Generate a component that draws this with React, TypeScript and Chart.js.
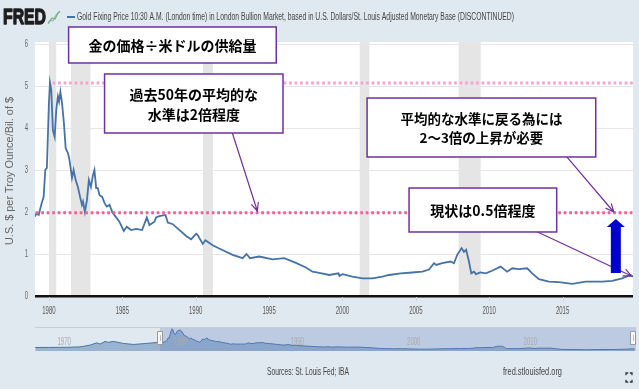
import React, { useEffect, useRef } from 'react';
import { Chart, registerables } from 'chart.js';
Chart.register(...registerables);

// ---- data (ratio: gold price / adjusted monetary base) ----
const years = [
  1979.05, 1979.15, 1979.3, 1979.5, 1979.64, 1979.75, 1979.86, 1980.0, 1980.07, 1980.16,
  1980.27, 1980.39, 1980.5, 1980.61, 1980.69, 1980.78, 1980.89, 1981.02, 1981.14, 1981.3,
  1981.4, 1981.57, 1981.68, 1981.82, 1981.97, 1982.14, 1982.25, 1982.32, 1982.45, 1982.59,
  1982.72, 1982.86, 1983.0, 1983.1, 1983.22, 1983.33, 1983.45, 1983.63, 1983.79, 1983.94,
  1984.13, 1984.31, 1984.54, 1984.8, 1985.1, 1985.3, 1985.6, 1985.95, 1986.35, 1986.67,
  1986.85, 1987.19, 1987.3, 1987.53, 1987.94, 1988.1, 1988.44, 1988.9, 1989.35, 1989.69,
  1990.03, 1990.14, 1990.48, 1990.66, 1991.16, 1991.6, 1992.52, 1993.2, 1993.47, 1993.7,
  1994.33, 1995.24, 1996.03, 1996.83, 1997.51, 1997.96, 1998.42, 1999.1, 1999.73, 1999.8,
  2000.0, 2000.68, 2001.36, 2002.04, 2002.72, 2003.18, 2003.97, 2004.76, 2005.44, 2005.9,
  2006.24, 2006.4, 2006.8, 2007.37, 2007.6, 2007.82, 2008.12, 2008.28, 2008.43, 2008.62,
  2008.78, 2008.96, 2009.1, 2009.4, 2009.76, 2010.2, 2010.78, 2011.22, 2011.57, 2012.02,
  2012.59, 2012.93, 2013.39, 2014.07, 2014.75, 2015.66, 2016.57, 2017.7, 2018.38, 2019.06,
  2019.63, 2019.8,
];
const ratio = [
  1.89, 1.97, 1.93, 2.2, 2.36, 3.0, 3.05, 4.6, 5.08, 4.9,
  3.95, 3.79, 4.43, 4.75, 4.63, 4.86, 4.6, 4.12, 3.52, 3.4,
  3.24, 2.81, 3.0, 2.76, 2.6, 2.33, 2.17, 2.25, 2.0, 2.29,
  2.76, 2.6, 2.88, 3.0, 2.57, 2.57, 2.4, 2.36, 2.21, 2.13,
  2.17, 2.0, 1.89, 1.77, 1.55, 1.65, 1.57, 1.6, 1.57, 1.87,
  1.69, 1.77, 1.87, 1.9, 1.93, 1.75, 1.71, 1.57, 1.43, 1.35,
  1.48, 1.45, 1.24, 1.33, 1.21, 1.13, 0.98, 0.9, 1.0, 0.9,
  0.94, 0.87, 0.9, 0.79, 0.68, 0.58, 0.55, 0.5, 0.54, 0.48,
  0.52, 0.46, 0.42, 0.42, 0.46, 0.5, 0.54, 0.56, 0.58, 0.63,
  0.78, 0.74, 0.78, 0.82, 0.78, 0.98, 1.14, 1.05, 1.1, 0.82,
  0.54, 0.58, 0.52, 0.56, 0.54, 0.6, 0.7, 0.58, 0.66, 0.64,
  0.66, 0.54, 0.4, 0.34, 0.33, 0.29, 0.34, 0.34, 0.36, 0.42,
  0.5, 0.46,
];
// navigator only: earlier history
const preYears = [1968.35, 1969.5, 1971.0, 1972.19, 1973.05, 1973.63, 1973.91, 1974.34, 1974.62, 1975.05, 1975.91, 1976.77, 1977.92, 1978.92];
const preRatio = [0.8, 0.82, 0.85, 0.94, 1.34, 1.88, 1.58, 2.2, 1.98, 2.2, 1.74, 1.5, 1.74, 1.98];

const recessionStart = [1980.0, 1981.5, 1990.5, 2001.17, 2007.92];
const recessionEnd = [1980.5, 1982.83, 1991.17, 2001.83, 2009.42];

const xTickYears = [1980, 1985, 1990, 1995, 2000, 2005, 2010, 2015];
const yTickValues = [0, 1, 2, 3, 4, 5, 6];
const navLabelYears = [1970, 1980, 1990, 2000, 2010];

const avgLevels = [5.07, 1.98];
const avgStarts = [1980.25, 1979.1];
const avgColors = ['#ff9fd0', '#ff5a98'];

const title = 'Gold Fixing Price 10:30 A.M. (London time) in London Bullion Market, based in U.S. Dollars/St. Louis Adjusted Monetary Base (DISCONTINUED)';
const yTitle = 'U.S. $ per Troy Ounce/Bil. of $';

// annotation boxes in data units (year, value)
const noteTexts = [
  ['金の価格÷米ドルの供給量'],
  ['過去50年の平均的な', '水準は2倍程度'],
  ['平均的な水準に戻る為には', '2〜3倍の上昇が必要'],
  ['現状は0.5倍程度'],
];
const noteX0 = [1981.34, 1983.79, 2001.68, 2004.54];
const noteX1 = [1995.49, 1995.95, 2017.26, 2014.6];
const noteYTop = [6.405, 5.286, 4.714, 2.571];
const noteYBot = [5.548, 3.881, 3.31, 1.524];
const noteFont = [14, 14, 13.5, 14];
const arrowFrom = [[1992.5, 3.881], [2015.29, 3.31], [2013.3, 1.524]];
const arrowTo = [[1994.2, 2.024], [2018.49, 2.0], [2019.7, 0.476]];
const bigArrowX = 2018.63;
const bigArrowFrom = 0.548;
const bigArrowTo = 1.833;

const BG = '#e1e9f0';
const LINE = '#4572a7';
const PURPLE = '#7030a0';
const SANS = '"Liberation Sans", Arial, sans-serif';
const JP = '"Noto Sans CJK JP", "Noto Sans CJK SC", sans-serif';

function drawScaled(ctx: CanvasRenderingContext2D, text: string, x: number, y: number, font: string, color: string, align: CanvasTextAlign, sx: number, stroke = 0) {
  ctx.save();
  ctx.font = font;
  ctx.fillStyle = color;
  ctx.textBaseline = 'middle';
  ctx.textAlign = align;
  ctx.translate(x, y);
  ctx.scale(sx, 1);
  ctx.fillText(text, 0, 0);
  if (stroke > 0) {
    ctx.strokeStyle = color;
    ctx.lineWidth = stroke;
    ctx.lineJoin = 'round';
    ctx.strokeText(text, 0, 0);
  }
  ctx.restore();
}
function drawFit(ctx: CanvasRenderingContext2D, text: string, x: number, y: number, font: string, color: string, align: CanvasTextAlign, width: number, stroke = 0) {
  ctx.save();
  ctx.font = font;
  const w = ctx.measureText(text).width;
  ctx.restore();
  drawScaled(ctx, text, x, y, font, color, align, width / w, stroke);
}
function openArrow(ctx: CanvasRenderingContext2D, x0: number, y0: number, x1: number, y1: number) {
  ctx.save();
  ctx.strokeStyle = PURPLE;
  ctx.lineWidth = 1.2;
  ctx.beginPath();
  ctx.moveTo(x0, y0);
  ctx.lineTo(x1, y1);
  const a = Math.atan2(y1 - y0, x1 - x0);
  const L = 9;
  ctx.moveTo(x1 - L * Math.cos(a - 0.42), y1 - L * Math.sin(a - 0.42));
  ctx.lineTo(x1, y1);
  ctx.lineTo(x1 - L * Math.cos(a + 0.42), y1 - L * Math.sin(a + 0.42));
  ctx.stroke();
  ctx.restore();
}

const mainPlugin = {
  id: 'fredMain',
  beforeDraw(chart: any) {
    const { ctx, chartArea: a, scales } = chart;
    ctx.save();
    ctx.fillStyle = BG;
    ctx.fillRect(0, 0, chart.width, chart.height);
    ctx.fillStyle = '#ffffff';
    ctx.fillRect(a.left, a.top - 2, a.right - a.left, a.bottom - a.top + 3);
    ctx.fillStyle = '#e5e5e5';
    recessionStart.forEach((s, i) => {
      const x0 = scales.x.getPixelForValue(s);
      const x1 = scales.x.getPixelForValue(recessionEnd[i]);
      ctx.fillRect(x0, a.top - 2, x1 - x0, a.bottom - a.top + 2);
    });
    ctx.restore();
  },
  afterDraw(chart: any) {
    const { ctx, chartArea: a, scales } = chart;
    const xs = scales.x, ys = scales.y;
    // x tick labels + small marks
    xs.ticks.forEach((t: any) => {
      const px = xs.getPixelForValue(t.value);
      ctx.save();
      ctx.strokeStyle = '#ccd6eb';
      ctx.lineWidth = 1;
      ctx.beginPath();
      ctx.moveTo(Math.round(px) + 0.5, a.bottom + 1);
      ctx.lineTo(Math.round(px) + 0.5, a.bottom + 5);
      ctx.stroke();
      ctx.restore();
      drawScaled(ctx, String(t.value), px, a.bottom + 15, `10px ${SANS}`, '#555', 'center', 0.6);
    });
    // y tick labels
    ys.ticks.forEach((t: any) => {
      const py = ys.getPixelForValue(t.value);
      drawScaled(ctx, String(t.value), 28, py, `10px ${SANS}`, '#666', 'right', 0.6);
    });
    // y title
    ctx.save();
    ctx.translate(10, 171);
    ctx.rotate(-Math.PI / 2);
    drawFit(ctx, yTitle, 0, 0, `10px ${SANS}`, '#666', 'center', 148);
    ctx.restore();
    // header
    drawFit(ctx, 'FRED', 3, 18, `bold 22px ${SANS}`, '#1e1e1e', 'left', 43, 1.4);
    ctx.save();
    ctx.lineWidth = 1.2;
    ctx.strokeStyle = '#8fb3d9';
    ctx.beginPath();
    ctx.moveTo(48, 24); ctx.lineTo(51, 20); ctx.lineTo(53, 21); ctx.lineTo(56, 15); ctx.lineTo(60, 11);
    ctx.stroke();
    ctx.strokeStyle = '#79b36b';
    ctx.beginPath();
    ctx.moveTo(48, 23); ctx.lineTo(52, 18); ctx.lineTo(55, 19); ctx.lineTo(58, 13); ctx.lineTo(60, 12);
    ctx.stroke();
    ctx.strokeStyle = LINE;
    ctx.lineWidth = 2;
    ctx.beginPath();
    ctx.moveTo(67, 17); ctx.lineTo(75, 17);
    ctx.stroke();
    ctx.restore();
    drawFit(ctx, title, 77, 17, `10px ${SANS}`, '#444', 'left', 437);
    // footer
    drawFit(ctx, 'Sources: St. Louis Fed; IBA', 267, 372, `10px ${SANS}`, '#444', 'left', 82);
    drawFit(ctx, 'fred.stlouisfed.org', 503, 372.5, `10px ${SANS}`, '#444', 'left', 59);
    ctx.save();
    ctx.strokeStyle = '#333';
    ctx.lineWidth = 1.3;
    const fx = 626, fy = 373, fs = 6, c = 2.2;
    ctx.beginPath();
    ctx.moveTo(fx, fy + c); ctx.lineTo(fx, fy); ctx.lineTo(fx + c, fy);
    ctx.moveTo(fx + fs - c, fy); ctx.lineTo(fx + fs, fy); ctx.lineTo(fx + fs, fy + c);
    ctx.moveTo(fx, fy + 9 - c); ctx.lineTo(fx, fy + 9); ctx.lineTo(fx + c, fy + 9);
    ctx.moveTo(fx + fs - c, fy + 9); ctx.lineTo(fx + fs, fy + 9); ctx.lineTo(fx + fs, fy + 9 - c);
    ctx.stroke();
    ctx.restore();

    // annotation arrows (purple)
    arrowFrom.forEach((p, i) => {
      openArrow(ctx, xs.getPixelForValue(p[0]), ys.getPixelForValue(p[1]), xs.getPixelForValue(arrowTo[i][0]), ys.getPixelForValue(arrowTo[i][1]));
    });
    // boxes
    noteTexts.forEach((lines, i) => {
      const x0 = xs.getPixelForValue(noteX0[i]);
      const x1 = xs.getPixelForValue(noteX1[i]);
      const y0 = ys.getPixelForValue(noteYTop[i]);
      const y1 = ys.getPixelForValue(noteYBot[i]);
      ctx.save();
      ctx.fillStyle = '#ffffff';
      ctx.fillRect(x0, y0, x1 - x0, y1 - y0);
      ctx.strokeStyle = PURPLE;
      ctx.lineWidth = 1.5;
      ctx.strokeRect(x0, y0, x1 - x0, y1 - y0);
      ctx.fillStyle = '#000';
      ctx.font = `bold ${noteFont[i]}px ${JP}`;
      ctx.textAlign = 'center';
      ctx.textBaseline = 'middle';
      const lh = 19.5;
      const cy = (y0 + y1) / 2 + 1;
      const cx = (x0 + x1) / 2;
      lines.forEach((ln, k) => {
        ctx.fillText(ln, cx, cy + (k - (lines.length - 1) / 2) * lh);
      });
      ctx.restore();
    });
    // big blue arrow
    const bx = xs.getPixelForValue(bigArrowX);
    const by0 = ys.getPixelForValue(bigArrowFrom);
    const by1 = ys.getPixelForValue(bigArrowTo);
    const headBase = by1 + 8;
    ctx.save();
    ctx.fillStyle = '#0000cc';
    ctx.fillRect(bx - 5, headBase - 0.5, 10, by0 - headBase + 0.5);
    ctx.beginPath();
    ctx.moveTo(bx - 9, headBase);
    ctx.lineTo(bx + 9, headBase);
    ctx.lineTo(bx, by1);
    ctx.closePath();
    ctx.fill();
    ctx.restore();
  },
};

const navPlugin = {
  id: 'fredNav',
  afterDatasetsDraw(chart: any) {
    const { ctx, scales } = chart;
    const xs = scales.x;
    const w = chart.width, h = chart.height;
    const sel0 = xs.getPixelForValue(years[0]);
    const sel1 = xs.getPixelForValue(years[years.length - 1]);
    ctx.save();
    ctx.fillStyle = 'rgba(102,133,194,0.3)';
    ctx.fillRect(sel0, 0, w - sel0, h);
    ctx.strokeStyle = '#cccccc';
    ctx.lineWidth = 1;
    ctx.beginPath();
    ctx.moveTo(0, 0.5); ctx.lineTo(w, 0.5);
    ctx.stroke();
    ctx.restore();
    navLabelYears.forEach((yr) => {
      drawScaled(ctx, String(yr), xs.getPixelForValue(yr) + 3, 15.5, `10px ${SANS}`, '#aaaaaa', 'left', 0.6);
    });
    [sel0, Math.min(sel1, w - 3)].forEach((hx) => {
      ctx.save();
      ctx.fillStyle = '#f7f7f7';
      ctx.strokeStyle = '#999';
      ctx.lineWidth = 1;
      ctx.beginPath();
      ctx.rect(Math.round(hx) - 2.5, 4.5, 5, 13);
      ctx.fill();
      ctx.stroke();
      ctx.strokeStyle = '#bbb';
      ctx.beginPath();
      ctx.moveTo(Math.round(hx) + 0.5, 8); ctx.lineTo(Math.round(hx) + 0.5, 14);
      ctx.stroke();
      ctx.restore();
    });
  },
};

export default function App() {
  const mainRef = useRef<HTMLCanvasElement | null>(null);
  const navRef = useRef<HTMLCanvasElement | null>(null);

  useEffect(() => {
    document.body.style.margin = '0';
    const mainData = years.map((x, i) => ({ x, y: ratio[i] }));
    const avgSets = avgLevels.map((lv, i) => ({
      data: [{ x: avgStarts[i], y: lv }, { x: 2019.8, y: lv }],
      borderColor: avgColors[i],
      borderWidth: 3,
      borderDash: [2.7, 2.8],
      borderCapStyle: 'butt' as const,
      pointRadius: 0,
      fill: false,
    }));
    const main = new Chart(mainRef.current as HTMLCanvasElement, {
      type: 'line',
      data: {
        datasets: [
          ...avgSets,
          { data: mainData, borderColor: LINE, borderWidth: 1.8, pointRadius: 0, fill: false, tension: 0 },
        ],
      },
      options: {
        responsive: false,
        animation: false,
        devicePixelRatio: 1,
        layout: { padding: { top: 44, right: 6, left: 0, bottom: 0 } },
        plugins: { legend: { display: false }, tooltip: { enabled: false }, title: { display: false } },
        scales: {
          x: {
            type: 'linear', min: 1979.05, max: 2019.8,
            grid: { display: false, drawTicks: false },
            border: { display: false },
            ticks: { display: false },
            afterBuildTicks: (s: any) => { s.ticks = xTickYears.map((v) => ({ value: v })); },
            afterFit: (s: any) => { s.height = 93; },
          },
          y: {
            type: 'linear', min: 0, max: 6,
            ticks: { display: false, stepSize: 1 },
            afterBuildTicks: (s: any) => { s.ticks = yTickValues.map((v) => ({ value: v })); },
            grid: {
              drawTicks: false,
              color: (c: any) => (c.tick && c.tick.value === 0 ? '#111' : '#e6e6e6'),
              lineWidth: (c: any) => (c.tick && c.tick.value === 0 ? 2.5 : 1),
            },
            border: { display: false },
            afterFit: (s: any) => { s.width = 35; },
          },
        },
      } as any,
      plugins: [mainPlugin],
    });

    const navData = [...preYears, ...years].map((x, i) => ({ x, y: [...preRatio, ...ratio][i] }));
    const nav = new Chart(navRef.current as HTMLCanvasElement, {
      type: 'line',
      data: {
        datasets: [
          { data: navData, borderColor: '#4572a7', borderWidth: 1, backgroundColor: 'rgba(69,114,167,0.45)', fill: 'origin', pointRadius: 0 },
        ],
      },
      options: {
        responsive: false,
        animation: false,
        devicePixelRatio: 1,
        layout: { padding: 0 },
        plugins: { legend: { display: false }, tooltip: { enabled: false } },
        scales: {
          x: { type: 'linear', display: false, min: 1968.33, max: 2019.9 },
          y: { display: false, min: 0, max: 5.5 },
        },
      } as any,
      plugins: [navPlugin],
    });
    return () => { main.destroy(); nav.destroy(); };
  }, []);

  return (
    <div style={{ position: 'fixed', left: 0, top: 0, width: 639, height: 389, background: BG, overflow: 'hidden' }}>
      <canvas ref={mainRef} width={639} height={389} style={{ position: 'absolute', left: 0, top: 0, width: 639, height: 389, display: 'block' }} />
      <canvas ref={navRef} width={601} height={24} style={{ position: 'absolute', left: 35, top: 327, width: 601, height: 24, display: 'block' }} />
    </div>
  );
}
